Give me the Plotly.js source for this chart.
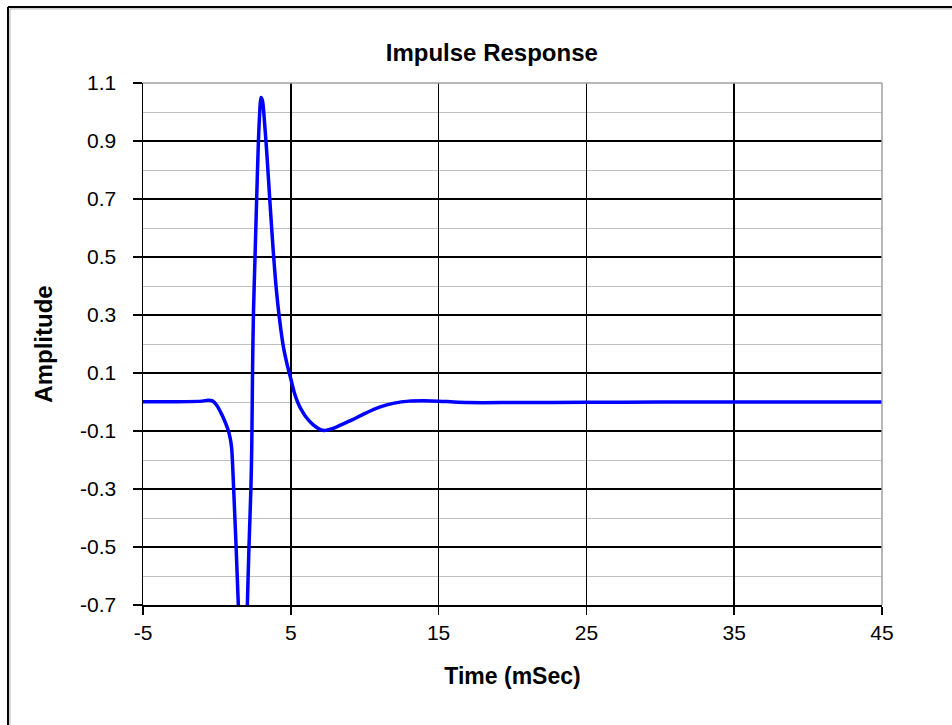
<!DOCTYPE html>
<html>
<head>
<meta charset="utf-8">
<script src="https://cdn.plot.ly/plotly-3.0.1.min.js"></script>
<style>
html,body{margin:0;padding:0;background:#fff;}
#chart{width:952px;height:725px;}
</style>
</head>
<body>
<div id="chart"></div>
<script>
// Data
const timeMs = [-5, -3, -1, -0.6, -0.3, 0, 0.25, 0.5, 0.75, 0.9, 1.0, 1.1, 1.2, 1.3, 1.45, 1.6, 1.75, 1.85, 1.95, 2.06, 2.17, 2.3, 2.36, 2.41, 2.47, 2.58, 2.69, 2.81, 2.9, 2.98, 3.08, 3.2, 3.4, 3.6, 3.8, 4.0, 4.25, 4.5, 4.75, 5.0, 5.25, 5.5, 5.75, 6.0, 6.5, 7.0, 7.25, 7.5, 8.0, 9, 10, 11, 12, 13, 14, 15, 16, 17, 20, 25, 30, 35, 40, 45];
const amplitude = [0.001, 0.001, 0.003, 0.006, 0.004, -0.012, -0.035, -0.062, -0.095, -0.125, -0.16, -0.26, -0.38, -0.5, -0.7, -0.88, -1.02, -1.05, -0.92, -0.7, -0.5, -0.3, -0.15, 0.1, 0.3, 0.5, 0.7, 0.9, 1.0, 1.05, 1.04, 0.98, 0.84, 0.68, 0.53, 0.4, 0.28, 0.19, 0.13, 0.08, 0.03, -0.005, -0.03, -0.05, -0.078, -0.095, -0.098, -0.096, -0.088, -0.065, -0.04, -0.018, -0.004, 0.003, 0.004, 0.003, 0.0, -0.002, -0.002, -0.001, 0, 0, 0, 0];

const xTickVals = [-5, 5, 15, 25, 35, 45];
const xTickText = ["-5", "5", "15", "25", "35", "45"];
const yTickVals = [-0.7, -0.5, -0.3, -0.1, 0.1, 0.3, 0.5, 0.7, 0.9, 1.1];
const yTickText = ["-0.7", "-0.5", "-0.3", "-0.1", "0.1", "0.3", "0.5", "0.7", "0.9", "1.1"];

const FONT = "Liberation Sans, Arial, sans-serif";

const trace = {
  x: timeMs, y: amplitude, type: "scatter", mode: "lines",
  line: {color: "#0000FF", width: 3.5, shape: "spline", smoothing: 0.8},
  hoverinfo: "x+y"
};

const layout = {
  width: 952, height: 725,
  margin: {l: 143, r: 70, t: 83, b: 120, pad: 0},
  paper_bgcolor: "#ffffff", plot_bgcolor: "#ffffff",
  showlegend: false,
  font: {family: FONT, color: "#000"},
  title: {text: "<b>Impulse Response</b>", font: {family: FONT, size: 24, color: "#000"},
          x: 0.472, xref: "paper", xanchor: "center", y: 0.928, yref: "container", yanchor: "middle"},
  xaxis: {
    range: [-5, 45], tickmode: "array", tickvals: xTickVals, ticktext: xTickText,
    showline: true, linecolor: "#000", linewidth: 1.5,
    showgrid: true, gridcolor: "#000", gridwidth: 1.5,
    ticks: "outside", ticklen: 8, tickcolor: "#000", tickwidth: 1.5,
    tickfont: {family: FONT, size: 21, color: "#000"},
    zeroline: false, fixedrange: true,
    title: {text: "<b>Time (mSec)</b>", font: {family: FONT, size: 23, color: "#000"}, standoff: 25}
  },
  yaxis: {
    range: [-0.7, 1.1], tickmode: "array", tickvals: yTickVals, ticktext: yTickText,
    showline: true, linecolor: "#000", linewidth: 1.5,
    showgrid: true, gridcolor: "#000", gridwidth: 1.5,
    ticks: "outside", ticklen: 9, tickcolor: "#000", tickwidth: 1.5,
    ticklabelstandoff: 12,
    tickfont: {family: FONT, size: 21, color: "#000"},
    minor: {dtick: 0.1, tick0: -0.7, showgrid: true, gridcolor: "#c0c0c0", gridwidth: 1, ticks: ""},
    zeroline: false, fixedrange: true,
    title: {text: "<b>Amplitude</b>", font: {family: FONT, size: 24, color: "#000"}, standoff: 20}
  },
  shapes: [
    // gray plot border on top and right
    {type: "line", xref: "paper", yref: "paper", x0: 0, x1: 1, y0: 1, y1: 1, line: {color: "#a0a0a0", width: 1.5}, layer: "above"},
    {type: "line", xref: "paper", yref: "paper", x0: 1, x1: 1, y0: 0, y1: 1, line: {color: "#a0a0a0", width: 1.5}, layer: "above"},
    // outer chart frame (left and top edges visible)
    {type: "line", xref: "paper", yref: "paper", x0: -0.1827, x1: -0.1827, y0: -0.25, y1: 1.1456, line: {color: "#000", width: 2}, layer: "above"},
    {type: "line", xref: "paper", yref: "paper", x0: -0.1827, x1: 1.12, y0: 1.1456, y1: 1.1456, line: {color: "#000", width: 2}, layer: "above"},
    {type: "line", xref: "paper", yref: "paper", x0: -0.1800, x1: -0.1800, y0: -0.25, y1: 1.142, line: {color: "#b0b0b0", width: 1}, layer: "above"},
    {type: "line", xref: "paper", yref: "paper", x0: -0.1800, x1: 1.12, y0: 1.142, y1: 1.142, line: {color: "#b0b0b0", width: 1}, layer: "above"}
  ]
};

Plotly.newPlot("chart", [trace], layout, {staticPlot: true, displayModeBar: false});
</script>
</body>
</html>
